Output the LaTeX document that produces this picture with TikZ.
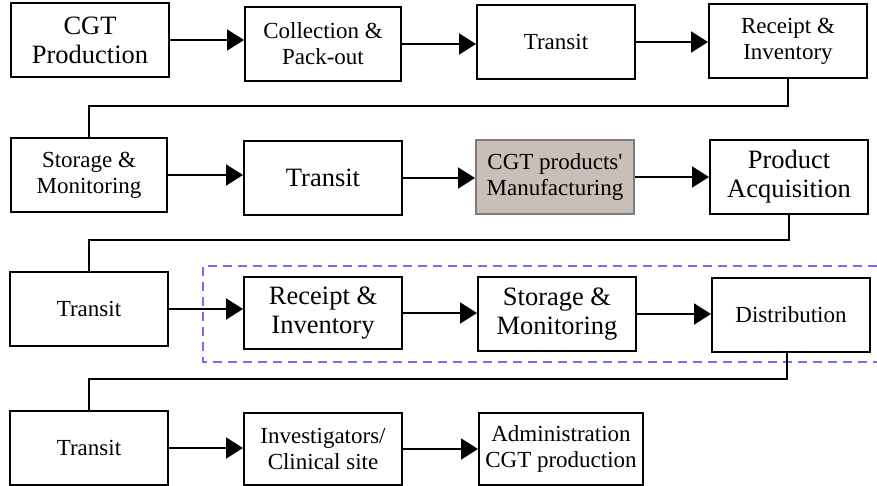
\documentclass[tikz,border=0pt]{standalone}
\usepackage{fontspec}
\setmainfont{Liberation Serif}
% same face without the TeX quote mapping, for a straight apostrophe
\newfontfamily\straightquote{Liberation Serif}
\usetikzlibrary{arrows.meta}

\definecolor{mfgfill}{RGB}{201,191,185}
\definecolor{mfgline}{RGB}{128,122,120}
\definecolor{groupline}{RGB}{110,110,250}

\tikzset{
  stepbox/.style={draw=black, line width=2pt, fill=white, inner sep=0pt,
    minimum width=158pt, minimum height=74pt, align=center},
  smalltxt/.style={font=\fontsize{23}{26}\selectfont},
  bigtxt/.style={font=\fontsize{26.5}{29}\selectfont},
  mfgbox/.style={stepbox, fill=mfgfill, draw=mfgline},
  flow/.style={line width=2pt, -{Triangle[length=17pt,width=21pt]}},
  link/.style={line width=2pt},
  groupframe/.style={draw=groupline, line width=1.5pt, dash pattern=on 9pt off 6pt}
}

\begin{document}
\begin{tikzpicture}[x=1pt, y=-1pt]
\useasboundingbox (0,0) rectangle (877,486);

% dashed frame around the distribution stage (open on the right)
\draw[groupframe] (877,266) -- (203,266) -- (203,362) -- (877,362);

% row 1
\node[stepbox, bigtxt] (a1) at (90,40) {CGT\\Production};
\node[stepbox, smalltxt, minimum width=156pt] (a2) at (323,44) {Collection \&\\Pack-out};
\node[stepbox, smalltxt] (a3) at (556,42) {Transit};
\node[stepbox, smalltxt] (a4) at (788,41) {Receipt \&\\Inventory};

% row 2
\node[stepbox, smalltxt, minimum width=156pt] (b1) at (89,175) {Storage \&\\Monitoring};
\node[stepbox, bigtxt] (b2) at (323,178) {Transit};
\node[mfgbox, smalltxt] (b3) at (555,177) {CGT products{\straightquote'}\\Manufacturing};
\node[stepbox, bigtxt] (b4) at (789,177) {Product\\Acquisition};

% row 3
\node[stepbox, smalltxt] (c1) at (89,309) {Transit};
\node[stepbox, bigtxt, minimum height=72pt] (c2) at (323,313) {Receipt \&\\Inventory};
\node[stepbox, bigtxt] (c3) at (557,314) {Storage \&\\Monitoring};
\node[stepbox, smalltxt] (c4) at (791,315) {Distribution};

% row 4
\node[stepbox, smalltxt] (d1) at (89,448) {Transit};
\node[stepbox, smalltxt, minimum height=72pt] (d2) at (323,449) {Investigators/\\Clinical site};
\node[stepbox, smalltxt, minimum width=164pt, minimum height=72pt] (d3) at (561,449) {Administration\\CGT production};

% arrows within rows
\draw[flow] (a1.east) -- (a1.east -| a2.west);
\draw[flow] (a2.east) -- (a2.east -| a3.west);
\draw[flow] (a3.east) -- (a3.east -| a4.west);

\draw[flow] (b1.east) -- (b1.east -| b2.west);
\draw[flow] (b2.east) -- (b2.east -| b3.west);
\draw[flow] (b3.east) -- (b3.east -| b4.west);

\draw[flow] (c1.east) -- (c1.east -| c2.west);
\draw[flow] (c2.east) -- (c2.east -| c3.west);
\draw[flow] (c3.east) -- (c3.east -| c4.west);

\draw[flow] (d1.east) -- (d1.east -| d2.west);
\draw[flow] (d2.east) -- (d2.east -| d3.west);

% links from the end of one row to the start of the next
\draw[link] (a4.south) -- ++(0,27) -| (b1.north);
\draw[link] (b4.south) -- ++(0,25) -| (c1.north);
\draw[link] ([xshift=-4pt]c4.south) -- ++(0,26) -| (d1.north);
\end{tikzpicture}
\end{document}
